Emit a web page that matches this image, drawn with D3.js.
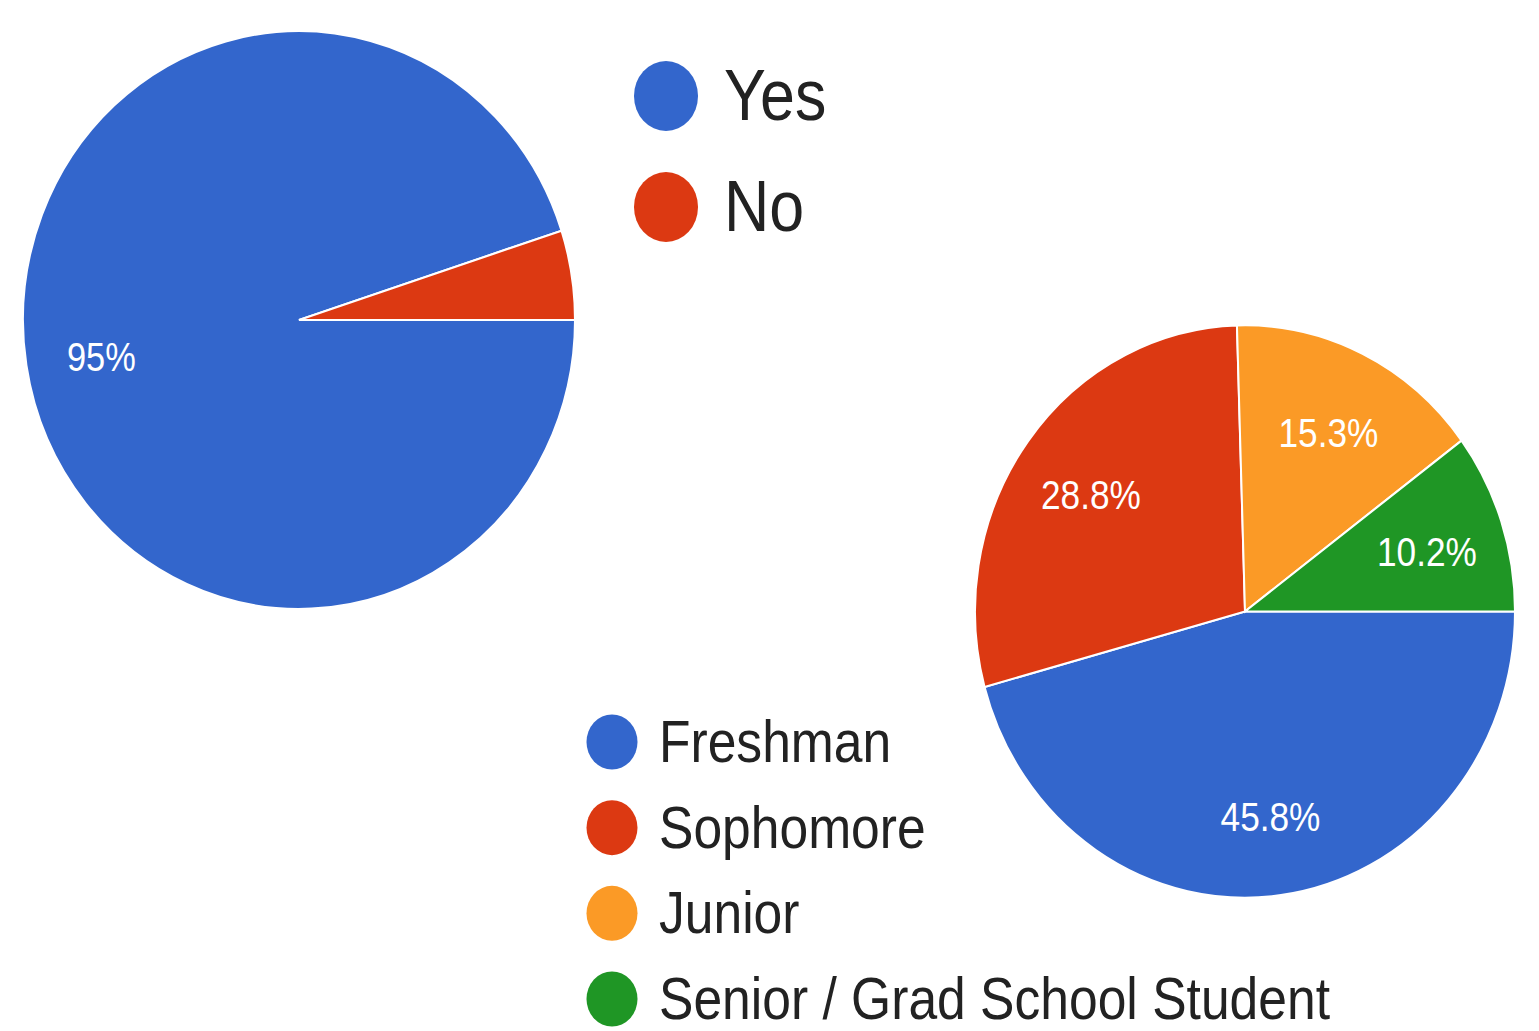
<!DOCTYPE html>
<html>
<head>
<meta charset="utf-8">
<script src="https://cdn.jsdelivr.net/npm/d3@7"></script>
<style>
  html, body { margin: 0; padding: 0; background: #fff; }
  text { font-family: "Liberation Sans", Arial, sans-serif; }
</style>
</head>
<body>
<div id="chart"></div>
<script>
// Data
var answerLabels = ["Yes", "No"];
var answerValues = [95, 5];
var answerColors = ["#3366cc", "#dc3912"];

var yearLabels = ["Freshman", "Sophomore", "Junior", "Senior / Grad School Student"];
var yearValues = [45.8, 28.8, 15.3, 10.2];
var yearColors = ["#3366cc", "#dc3912", "#fb9a26", "#1f9625"];

var svg = d3.select("#chart").append("svg")
  .attr("width", 1539)
  .attr("height", 1031);

// the screenshot is stretched a bit vertically and squeezed for text
var textSquash = 0.86;

function drawPie(opts) {
  var pie = d3.pie().sort(null).value(function(d) { return d.value; })
    .startAngle(Math.PI / 2).endAngle(Math.PI / 2 + 2 * Math.PI);
  var arc = d3.arc().innerRadius(0).outerRadius(opts.r);
  var labelArc = d3.arc().innerRadius(opts.r * opts.labelR).outerRadius(opts.r * opts.labelR);

  var data = opts.labels.map(function(l, i) { return {label: l, value: opts.values[i], color: opts.colors[i]}; });
  var arcs = pie(data);

  var g = svg.append("g")
    .attr("transform", "translate(" + opts.cx + "," + opts.cy + ") scale(1," + opts.sy + ")");

  g.selectAll("path")
    .data(arcs)
    .enter()
    .append("path")
    .attr("d", arc)
    .attr("fill", function(d) { return d.data.color; })
    .attr("stroke", "#fff")
    .attr("stroke-width", 2);

  // labels, small slices get none (like google charts)
  svg.selectAll(null)
    .data(arcs.filter(function(d) { return d.endAngle - d.startAngle > 0.5; }))
    .enter()
    .append("text")
    .attr("transform", function(d) {
      var c = labelArc.centroid(d);
      return "translate(" + (opts.cx + c[0]) + "," + (opts.cy + c[1] * opts.sy) + ") scale(" + textSquash + ",1)";
    })
    .attr("dy", "0.45em")
    .attr("text-anchor", "middle")
    .attr("fill", "#fff")
    .attr("font-size", opts.labelSize)
    .text(function(d) { return d.data.value + "%"; });
}

function drawLegend(opts) {
  var y = d3.scalePoint()
    .domain(opts.labels)
    .range([opts.y0, opts.y1]);

  var items = svg.selectAll(null)
    .data(opts.labels)
    .enter()
    .append("g")
    .attr("transform", function(d) { return "translate(" + opts.x + "," + y(d) + ")"; });

  items.append("ellipse")
    .attr("rx", opts.rx)
    .attr("ry", opts.ry)
    .attr("fill", function(d, i) { return opts.colors[i]; });

  items.append("text")
    .attr("transform", "translate(" + opts.textDx + ",0) scale(" + textSquash + ",1)")
    .attr("dy", opts.textDy)
    .attr("fill", "#222")
    .attr("font-size", opts.size)
    .text(function(d) { return d; });
}

drawPie({labels: answerLabels, values: answerValues, colors: answerColors,
  cx: 299, cy: 320, r: 276, sy: 1.047, labelR: 0.725, labelSize: 40});

drawPie({labels: yearLabels, values: yearValues, colors: yearColors,
  cx: 1245, cy: 611.5, r: 270, sy: 1.06, labelR: 0.71, labelSize: 41});

drawLegend({labels: answerLabels, colors: answerColors,
  x: 666, y0: 96, y1: 207, rx: 32, ry: 35, textDx: 58, textDy: 24, size: 73});

drawLegend({labels: yearLabels, colors: yearColors,
  x: 612, y0: 742, y1: 999, rx: 25.5, ry: 27.5, textDx: 47, textDy: 20, size: 60});
</script>
</body>
</html>
